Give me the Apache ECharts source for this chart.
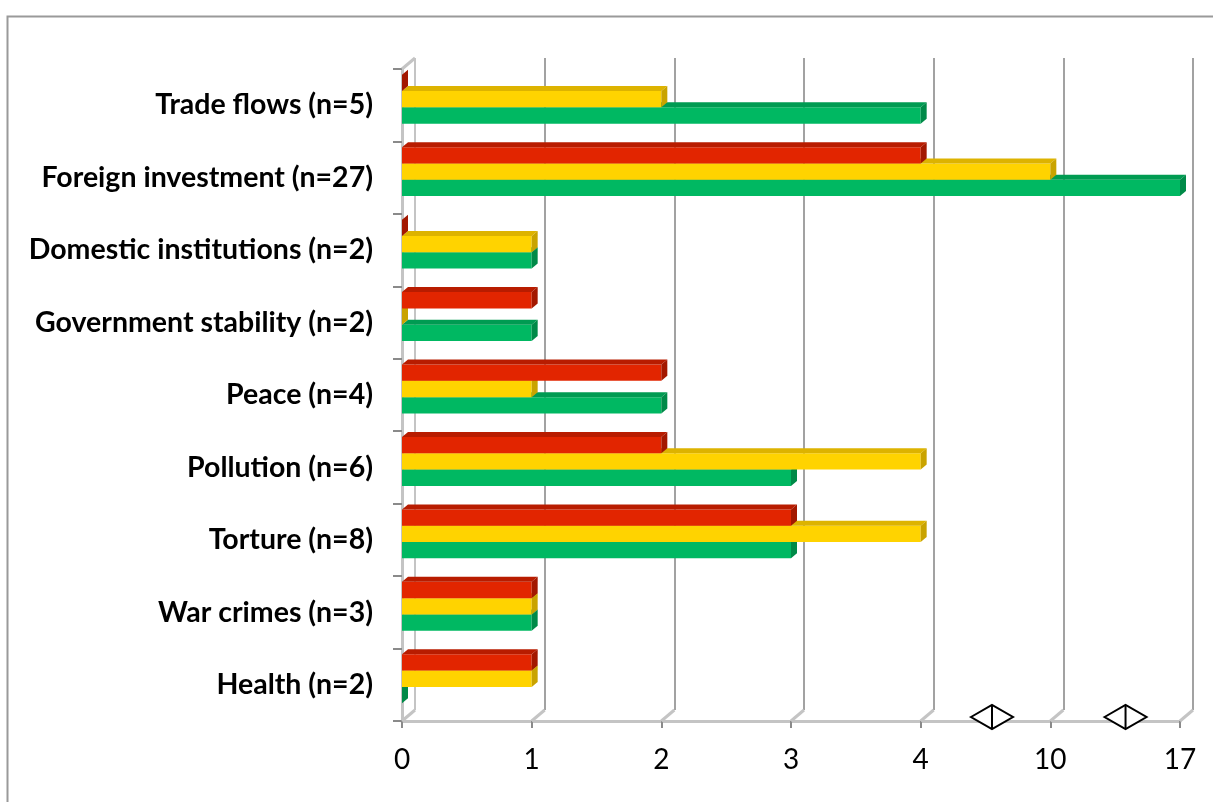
<!DOCTYPE html>
<html>
<head>
<meta charset="utf-8">
<script src="https://cdn.jsdelivr.net/npm/echarts@6/dist/echarts.min.js"></script>
<style>
html,body{margin:0;padding:0;background:#fff;}
#chart{width:1213px;height:802px;}
</style>
</head>
<body>
<div id="chart"></div>
<script>
// ---- data ----
const categories = [
  'Trade flows (n=5)',
  'Foreign investment (n=27)',
  'Domestic institutions (n=2)',
  'Government stability (n=2)',
  'Peace (n=4)',
  'Pollution (n=6)',
  'Torture (n=8)',
  'War crimes (n=3)',
  'Health (n=2)'
];
const redValues    = [0, 4, 0, 1, 2, 2, 3, 1, 1];
const yellowValues = [2, 10, 1, 0, 1, 4, 4, 1, 1];
const greenValues  = [4, 17, 1, 1, 2, 3, 3, 1, 0];
const tickLabels   = [0, 1, 2, 3, 4, 10, 17];
const breakMarks   = [4.55, 5.58]; // axis-break symbols (in axis position units)

// broken-axis scale: value -> evenly spaced tick position
function toPos(v) {
  for (let i = 0; i < tickLabels.length - 1; i++) {
    const a = tickLabels[i], b = tickLabels[i + 1];
    if (v <= b) return i + (v - a) / (b - a);
  }
  return tickLabels.length - 1;
}

const DX = 6, DY = -5;       // bar depth
const WX = 13, WY = -11;     // wall depth

function barSeries(name, values, front, top, side, idx) {
  return {
    type: 'custom',
    name: name,
    xAxisIndex: 0, yAxisIndex: 0,
    z: 10 + (2 - idx),
    data: values.map((v, i) => [toPos(v), i]),
    encode: { x: 0, y: 1 },
    renderItem: function (params, api) {
      const ci = api.value(1);
      const s = api.coord([0, ci]);
      const e = api.coord([api.value(0), ci]);
      const band = api.size([0, 1])[1];
      const h = band * 0.225;
      const shift = band * 0.083;
      const y0 = s[1] - 1.5 * h - shift + idx * h;
      const x0 = s[0], x1 = e[0];
      return {
        type: 'group',
        children: [
          { type: 'rect', shape: { x: x0, y: y0, width: x1 - x0, height: h }, style: { fill: front } },
          { type: 'polygon', shape: { points: [[x0, y0], [x0 + DX, y0 + DY], [x1 + DX, y0 + DY], [x1, y0]] }, style: { fill: top } },
          { type: 'polygon', shape: { points: [[x1, y0], [x1 + DX, y0 + DY], [x1 + DX, y0 + h + DY], [x1, y0 + h]] }, style: { fill: side } }
        ]
      };
    }
  };
}

const wallSeries = {
  type: 'custom',
  xAxisIndex: 0, yAxisIndex: 0,
  silent: true, z: 3,
  data: tickLabels.map((t, i) => [i, 0]),
  encode: { x: 0, y: 1 },
  renderItem: function (params, api) {
    const cs = params.coordSys;
    const x = api.coord([api.value(0), 0])[0];
    const b = cs.y + cs.height;
    const children = [
      { type: 'line', shape: { x1: x, y1: b, x2: x + WX, y2: b + WY }, style: { stroke: '#c4c4c4', lineWidth: 3 } }
    ];
    if (api.value(0) === 0) {
      children.push({ type: 'line', shape: { x1: x, y1: cs.y, x2: x + WX, y2: cs.y + WY }, style: { stroke: '#c4c4c4', lineWidth: 3 } });
    }
    return { type: 'group', children: children };
  }
};

const breakSeries = {
  type: 'custom',
  xAxisIndex: 0, yAxisIndex: 0,
  silent: true, z: 30,
  data: breakMarks.map(p => [p, 0]),
  encode: { x: 0, y: 1 },
  renderItem: function (params, api) {
    const cs = params.coordSys;
    const x = api.coord([api.value(0), 0])[0];
    const y = cs.y + cs.height - 4;
    const w = 21, hh = 12;
    return {
      type: 'group',
      children: [
        { type: 'polygon', shape: { points: [[x - w, y], [x, y - hh], [x + w, y], [x, y + hh]] }, style: { fill: '#fff', stroke: '#000', lineWidth: 2 } },
        { type: 'line', shape: { x1: x, y1: y - hh, x2: x, y2: y + hh }, style: { stroke: '#000', lineWidth: 2 } }
      ]
    };
  }
};

const chart = echarts.init(document.getElementById('chart'), null, { renderer: 'canvas' });
chart.setOption({
  backgroundColor: '#ffffff',
  animation: false,
  graphic: [{
    type: 'rect', left: 5, top: 14, silent: true, z: -10,
    shape: { width: 1300, height: 900 },
    style: { fill: 'none', stroke: '#9a9a9a', lineWidth: 2 }
  }],
  grid: [
    { left: 402, right: 33, top: 69, bottom: 81 },
    { left: 402 + WX, right: 33 - WX, top: 69 + WY, bottom: 81 - WY }
  ],
  xAxis: [
    {
      gridIndex: 0, type: 'value', min: 0, max: 6, interval: 1,
      axisLine: { show: true, lineStyle: { color: '#c4c4c4', width: 3 } },
      axisTick: { show: true, length: 7, lineStyle: { color: '#8a8a8a', width: 2 } },
      splitLine: { show: false },
      axisLabel: {
        margin: 25, color: '#000', fontFamily: 'Lato', fontSize: 28,
        formatter: v => String(tickLabels[Math.round(v)])
      }
    },
    {
      gridIndex: 1, type: 'value', min: 0, max: 6, interval: 1,
      axisLine: { show: false }, axisTick: { show: false }, axisLabel: { show: false },
      splitLine: { show: true, lineStyle: { color: ['#c4c4c4', '#a2a2a2', '#a2a2a2', '#a2a2a2', '#a2a2a2', '#a2a2a2', '#a2a2a2'], width: 2 } }
    }
  ],
  yAxis: [
    {
      gridIndex: 0, type: 'category', data: categories, inverse: true,
      axisLine: { show: true, lineStyle: { color: '#c4c4c4', width: 3 } },
      axisTick: { show: true, length: 9, lineStyle: { color: '#8a8a8a', width: 2 } },
      splitLine: { show: false },
      axisLabel: { margin: 29, color: '#000', fontFamily: 'Lato', fontWeight: 'bold', fontSize: 28.5 }
    },
    {
      gridIndex: 1, type: 'category', data: categories, inverse: true, show: false
    }
  ],
  series: [
    wallSeries,
    barSeries('Red', redValues, '#E22500', '#B81C00', '#A31800', 0),
    barSeries('Yellow', yellowValues, '#FFD300', '#DDB300', '#C9A300', 1),
    barSeries('Green', greenValues, '#00B862', '#009B52', '#008A48', 2),
    breakSeries
  ]
});
</script>
</body>
</html>
